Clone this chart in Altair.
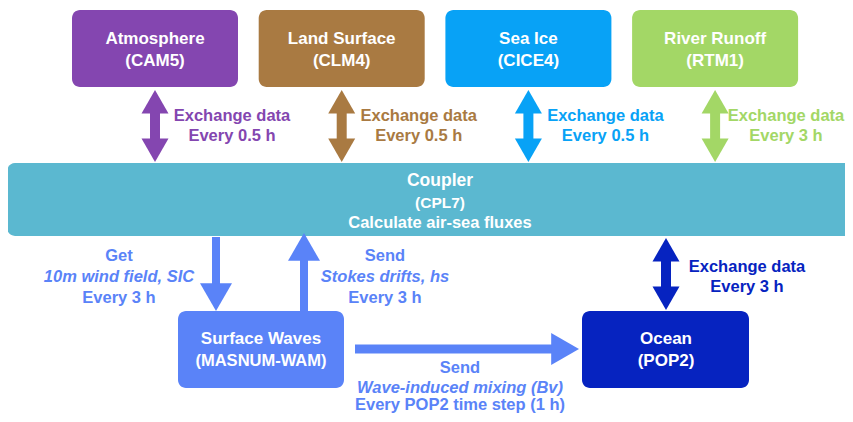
import altair as alt
import pandas as pd

# ---------------- data ----------------
top_names = ["Atmosphere", "Land Surface", "Sea Ice", "River Runoff"]
top_models = ["(CAM5)", "(CLM4)", "(CICE4)", "(RTM1)"]
top_freq = ["Every 0.5 h", "Every 0.5 h", "Every 0.5 h", "Every 3 h"]
top_action = ["Exchange data", "Exchange data", "Exchange data", "Exchange data"]
top_colors = ["#8446B0", "#A97A42", "#08A2F6", "#A3D766"]

coupler_lines = ["Coupler", "(CPL7)", "Calculate air-sea fluxes"]
coupler_color = "#5BB8D0"

waves_lines = ["Surface Waves", "(MASNUM-WAM)"]
ocean_lines = ["Ocean", "(POP2)"]
waves_color = "#5A83F8"
ocean_color = "#0623C0"

get_lines = ["Get", "10m wind field, SIC", "Every 3 h"]
send_up_lines = ["Send", "Stokes drifts, hs", "Every 3 h"]
send_ocean_lines = ["Send", "Wave-induced mixing (Bv)", "Every POP2 time step (1 h)"]
ocean_exchange = ["Exchange data", "Every 3 h"]

# ---------------- layout ----------------
FONT = "Liberation Sans"
boxes, shafts, texts_b, texts_i = [], [], [], []
heads = {"up": [], "down": [], "right": []}
R = 0.87


def box(x0, x1, y0, y1, c):
    boxes.append(dict(x=x0, x2=x1, y=y0, y2=y1, c=c))


def txt(x, y, t, s, c, italic=False):
    (texts_i if italic else texts_b).append(dict(x=x, y=y, t=t, s=s, c=c))


def varrow(x, ytop, ybot, w, hw, c, up=True, down=True):
    hh = hw * R
    shafts.append(dict(x=x - w / 2, x2=x + w / 2,
                       y=ytop + (hh - 1 if up else 0),
                       y2=ybot - (hh - 1 if down else 0), c=c))
    if up:
        heads["up"].append(dict(x=x, y=ytop + hh / 2, s=hw ** 2, c=c))
    if down:
        heads["down"].append(dict(x=x, y=ybot - hh / 2, s=hw ** 2, c=c))


def harrow(y, xl, xr, w, hw, c):
    hh = hw * R
    shafts.append(dict(x=xl, x2=xr - hh + 1, y=y - w / 2, y2=y + w / 2, c=c))
    heads["right"].append(dict(x=xr - hh / 2, y=y, s=hw ** 2, c=c))


# top components
for i in range(len(top_names)):
    x0 = 72 + i * 186.7
    cx = x0 + 83
    box(x0, x0 + 166, 10, 87, top_colors[i])
    txt(cx, 39, top_names[i], 17, "white")
    txt(cx, 61, top_models[i], 17, "white")
    varrow(cx, 90, 162, 10, 27, top_colors[i])
    tx = min(cx + 77, 786)
    txt(tx, 116, top_action[i], 16.5, top_colors[i])
    txt(tx, 136, top_freq[i], 16.5, top_colors[i])

# coupler
box(7, 880, 163, 236, coupler_color)
txt(440, 181, coupler_lines[0], 17.5, "white")
txt(440, 203, coupler_lines[1], 15.5, "white")
txt(440, 223, coupler_lines[2], 16.5, "white")

# waves and ocean
box(178, 344, 311, 388, waves_color)
txt(261, 339, waves_lines[0], 17, "white")
txt(261, 361, waves_lines[1], 16.5, "white")
box(582, 749, 311, 388, ocean_color)
txt(666, 339, ocean_lines[0], 17, "white")
txt(666, 361, ocean_lines[1], 17, "white")

# arrows between coupler / waves / ocean
varrow(216, 237, 311, 8, 32, waves_color, up=False, down=True)
varrow(304, 233, 311, 8, 32, waves_color, up=True, down=False)
harrow(349, 355, 579, 9, 32, waves_color)
varrow(666, 238, 310, 10, 27, ocean_color)

for k, (lines, cx, ys) in enumerate([
        (get_lines, 119, [256, 277, 298]),
        (send_up_lines, 385, [256, 277, 298]),
        (send_ocean_lines, 460, [368, 388, 405])]):
    for j, t in enumerate(lines):
        txt(cx, ys[j], t, 16.5, waves_color, italic=(j == 1))
txt(747, 267, ocean_exchange[0], 16.5, ocean_color)
txt(747, 287, ocean_exchange[1], 16.5, ocean_color)

# ---------------- chart ----------------
W, H = 837, 406
X = alt.X("x:Q", scale=alt.Scale(domain=[8, 8 + W]), axis=None)
Y = alt.Y("y:Q", scale=alt.Scale(domain=[8, 8 + H], reverse=True), axis=None)
C = alt.Color("c:N", scale=None)

box_layer = alt.Chart(pd.DataFrame(boxes)).mark_rect(cornerRadius=8).encode(
    x=X, x2="x2:Q", y=Y, y2="y2:Q", color=C)
shaft_layer = alt.Chart(pd.DataFrame(shafts)).mark_rect().encode(
    x=X, x2="x2:Q", y=Y, y2="y2:Q", color=C)

paths = {
    "down": "M-1,-0.87L1,-0.87L0,0.87Z",
    "up": "M-1,0.87L1,0.87L0,-0.87Z",
    "right": "M-0.87,-1L-0.87,1L0.87,0Z",
}
head_layers = [
    alt.Chart(pd.DataFrame(heads[k])).mark_point(
        shape=paths[k], filled=True, opacity=1, strokeWidth=0).encode(
        x=X, y=Y, color=C, size=alt.Size("s:Q", scale=None))
    for k in ["up", "down", "right"]
]

text_b = alt.Chart(pd.DataFrame(texts_b)).mark_text(
    font=FONT, fontWeight="bold", align="center", baseline="middle").encode(
    x=X, y=Y, text="t:N", color=C, size=alt.Size("s:Q", scale=None))
text_i = alt.Chart(pd.DataFrame(texts_i)).mark_text(
    font=FONT, fontWeight="bold", fontStyle="italic", align="center",
    baseline="middle").encode(
    x=X, y=Y, text="t:N", color=C, size=alt.Size("s:Q", scale=None))

chart = alt.layer(box_layer, shaft_layer, *head_layers, text_b, text_i).properties(
    width=W, height=H, padding=0, autosize=alt.AutoSizeParams(type="none"),
    background="white"
).configure_view(stroke=None)

chart.save("out.html", embed_options={"renderer": "svg", "actions": False})
